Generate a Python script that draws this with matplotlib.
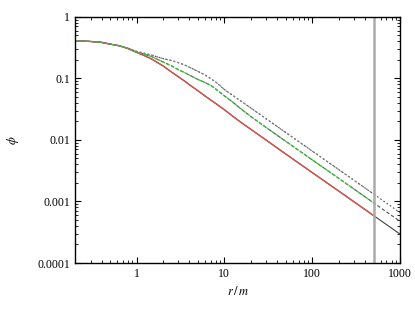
import numpy as np
import matplotlib
matplotlib.use("Agg")
import matplotlib.pyplot as plt
from matplotlib.ticker import LogLocator, FixedLocator, FixedFormatter, NullFormatter

# Dados
r = [0.2, 0.25, 0.3, 0.4, 0.5, 0.6, 0.7, 0.8, 1.0, 1.2, 1.5, 2.0, 2.5, 3.0, 3.5, 4.0, 5.0, 6.0, 7.0,
     8.0, 10, 12, 15, 20, 30, 50, 100, 200, 500, 1000]
phi_red = [0.407, 0.404, 0.398, 0.385, 0.36, 0.345, 0.325, 0.305, 0.265, 0.238, 0.205, 0.16, 0.127,
           0.106, 0.091, 0.079, 0.063, 0.052, 0.0445, 0.039, 0.031, 0.0253, 0.0199, 0.0149, 0.0099,
           0.0059, 0.00295, 0.00148, 0.00059, 0.000295]
phi_green = [0.407, 0.404, 0.398, 0.385, 0.36, 0.345, 0.326, 0.307, 0.268, 0.25, 0.225, 0.185, 0.16,
             0.138, 0.125, 0.113, 0.096, 0.086, 0.077, 0.067, 0.052, 0.043, 0.033, 0.024, 0.0159,
             0.0095, 0.00475, 0.00238, 0.00095, 0.000475]
phi_dot = [0.407, 0.404, 0.398, 0.385, 0.362, 0.346, 0.328, 0.309, 0.275, 0.258, 0.238, 0.21, 0.195,
           0.18, 0.166, 0.152, 0.13, 0.114, 0.099, 0.087, 0.066, 0.055, 0.044, 0.033, 0.022,
           0.0132, 0.0066, 0.0033, 0.00132, 0.00066]
r_corte = 500

xticks = [1, 10, 100, 1000]
xticklabels = ["1", "10", "100", "1000"]
yticks = [1e-4, 1e-3, 1e-2, 1e-1, 1]
yticklabels = ["0.0001", "0.001", "0.01", "0.1", "1"]

plt.rcParams['font.family'] = ['Liberation Serif', 'DejaVu Serif']
plt.rcParams['mathtext.fontset'] = 'stix'

fig = plt.figure(figsize=(4.15, 3.12), dpi=100)
ax = fig.add_axes([0.181, 0.157, 0.783, 0.789])

r = np.array(r)
dentro = r <= r_corte

# curvas completas (continuam apos o corte em cinza escuro)
ax.plot(r, phi_red, color="#404040", lw=0.8)
ax.plot(r, phi_green, color="#505050", lw=0.8, ls=(0, (3, 2)))
ax.plot(r, phi_dot, color="#505050", lw=0.8, ls=(0, (1.5, 2)))

ax.plot(r[dentro], np.array(phi_red)[dentro], color="#d9534f", lw=1.0)
ax.plot(r[dentro], np.array(phi_green)[dentro], color="#3cc03c", lw=0.9, ls=(0, (3, 1)))
ax.plot(r[dentro], np.array(phi_dot)[dentro], color="#808080", lw=0.9, ls=(0, (1.5, 2)))

ax.axvline(r_corte, color="#aaaaaa", lw=1.8)

ax.set_xscale("log")
ax.set_yscale("log")
ax.set_xlim(0.2, 1000)
ax.set_ylim(1e-4, 1)

ax.xaxis.set_major_locator(FixedLocator(xticks))
ax.xaxis.set_major_formatter(FixedFormatter(xticklabels))
ax.yaxis.set_major_locator(FixedLocator(yticks))
ax.yaxis.set_major_formatter(FixedFormatter(yticklabels))
ax.xaxis.set_minor_locator(LogLocator(subs=np.arange(2, 10), numticks=20))
ax.yaxis.set_minor_locator(LogLocator(subs=np.arange(2, 10), numticks=20))
ax.xaxis.set_minor_formatter(NullFormatter())
ax.yaxis.set_minor_formatter(NullFormatter())

ax.tick_params(which='both', direction='in', top=True, right=True, labelsize=8.5)
ax.tick_params(which='major', length=4, width=0.8)
ax.tick_params(which='minor', length=2, width=0.6)
for s in ax.spines.values():
    s.set_linewidth(1.0)

ax.set_xlabel(r"$r\,/\,m$", fontsize=9)
ax.set_ylabel(r"$\phi$", fontsize=9)
ax.yaxis.set_label_coords(-0.165, 0.5)

fig.savefig("out.png", dpi=100)
